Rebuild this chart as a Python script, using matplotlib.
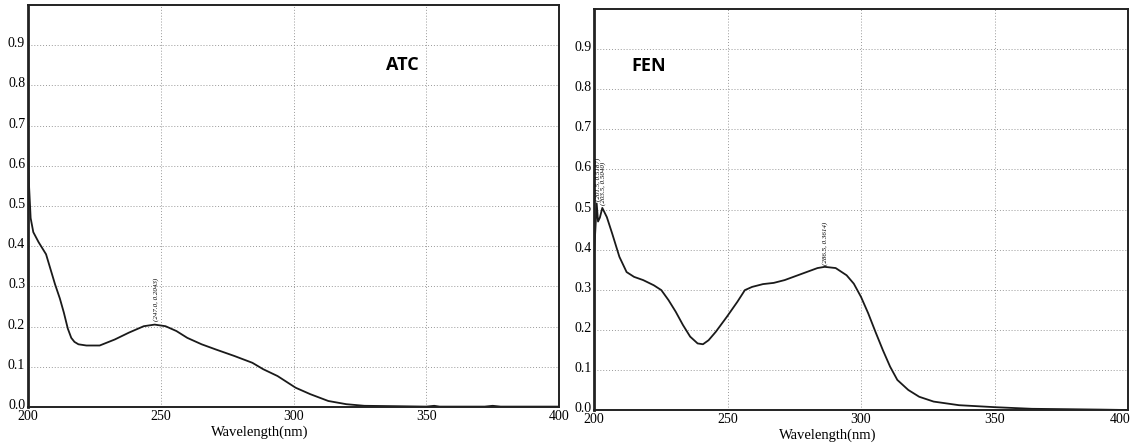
import matplotlib.pyplot as plt
from matplotlib.transforms import ScaledTranslation

# ATC spectrum
atc_wl = [200.0, 200.4, 201.0, 202.0, 204.0, 206.8, 210.2, 212.0, 213.5, 215.0, 216.3,
          217.5, 219.0, 222.0, 227.0, 232.7, 238.0, 243.6, 247.7, 251.8, 255.9,
          260.0, 265.4, 270.8, 277.7, 284.5, 288.6, 294.0, 300.8, 306.3, 313.1,
          319.9, 326.7, 339.0, 350.0, 353.0, 355.0, 372.0, 375.0, 378.0, 390.0, 400.0]
atc_abs = [0.66, 0.55, 0.47, 0.435, 0.41, 0.38, 0.305, 0.27, 0.235, 0.195, 0.172,
           0.162, 0.156, 0.153, 0.153, 0.168, 0.185, 0.201, 0.205, 0.201, 0.189,
           0.172, 0.156, 0.143, 0.127, 0.11, 0.094, 0.077, 0.048, 0.032, 0.015,
           0.007, 0.003, 0.002, 0.001, 0.003, 0.001, 0.001, 0.003, 0.001, 0.001, 0.001]

# FEN spectrum
fen_wl = [200.0, 200.5, 201.0, 201.5, 202.2, 203.1, 204.8, 206.8, 209.5, 212.2, 215.0,
          218.4, 222.4, 225.2, 227.9, 230.6, 233.3, 236.0, 238.8, 240.8, 242.9,
          245.6, 249.7, 253.7, 256.5, 259.2, 263.3, 267.3, 271.4, 275.5, 279.6,
          283.7, 286.4, 290.5, 294.6, 297.3, 300.0, 302.7, 305.4, 308.2, 310.9,
          313.6, 317.7, 321.8, 327.2, 336.7, 350.3, 364.0, 377.6, 390.0, 400.0]
fen_abs = [0.39, 0.45, 0.515, 0.47, 0.48, 0.504, 0.481, 0.44, 0.382, 0.344, 0.332,
           0.324, 0.311, 0.299, 0.274, 0.245, 0.212, 0.183, 0.166, 0.164, 0.174,
           0.195, 0.232, 0.27, 0.299, 0.307, 0.314, 0.317, 0.324, 0.334, 0.344,
           0.354, 0.357, 0.354, 0.336, 0.315, 0.282, 0.241, 0.195, 0.149, 0.108,
           0.075, 0.05, 0.033, 0.021, 0.012, 0.007, 0.003, 0.002, 0.001, 0.0]

x_ticks = [200, 250, 300, 350, 400]
y_ticks = [0.0, 0.1, 0.2, 0.3, 0.4, 0.5, 0.6, 0.7, 0.8, 0.9]

plt.rcParams['font.family'] = ['Liberation Serif', 'DejaVu Serif']

fig = plt.figure(figsize=(11.33, 4.48), dpi=100)
ax1 = fig.add_axes([0.0247, 0.0915, 0.4687, 0.8973])
ax2 = fig.add_axes([0.5243, 0.0848, 0.4713, 0.8951])


def style(ax):
    ax.set_xlim(200, 400)
    ax.set_ylim(0, 1.0)
    ax.set_xticks(x_ticks)
    ax.set_yticks(y_ticks)
    ax.set_yticklabels(['%.1f' % v for v in y_ticks])
    ax.tick_params(length=0, labelsize=10, pad=2)
    down = ScaledTranslation(0, -1.5 / 72, fig.dpi_scale_trans)
    for lab in ax.get_yticklabels():
        lab.set_va('baseline')
        lab.set_transform(lab.get_transform() + down)
    ax.grid(True, color='#999999', linestyle=(0, (1, 2)), linewidth=0.7)
    for s in ax.spines.values():
        s.set_linewidth(1.4)
        s.set_color('#222222')
    ax.spines['left'].set_linewidth(2)
    ax.set_xlabel('Wavelength(nm)', fontsize=10.5, labelpad=1)
    ax.xaxis.set_label_coords(0.437, -0.045)


ax1.plot(atc_wl, atc_abs, color='#1a1a1a', linewidth=1.3)
style(ax1)
ax1.text(341, 0.85, 'ATC', fontsize=13, fontweight='bold', family='Open Sans',
         ha='center', va='center')
ax1.text(248.2, 0.215, '(247.0, 0.2043)', rotation=90, fontsize=5, style='italic',
         ha='center', va='bottom')

ax2.plot(fen_wl, fen_abs, color='#1a1a1a', linewidth=1.3)
style(ax2)
# last x label on the right panel sits against the figure edge
last = ax2.get_xticklabels()[-1]
last.set_transform(last.get_transform() + ScaledTranslation(-6 / 72, 0, fig.dpi_scale_trans))
ax2.text(220.4, 0.858, 'FEN', fontsize=13, fontweight='bold', family='Open Sans',
         ha='center', va='center')
ax2.text(201.4, 0.52, '(201.5, 0.5187)', rotation=90, fontsize=5, style='italic',
         ha='center', va='bottom')
ax2.text(203.4, 0.512, '(203.5, 0.5040)', rotation=90, fontsize=5, style='italic',
         ha='center', va='bottom')
ax2.text(286.4, 0.362, '(286.5, 0.3614)', rotation=90, fontsize=5, style='italic',
         ha='center', va='bottom')

fig.savefig('out.png', dpi=100)
